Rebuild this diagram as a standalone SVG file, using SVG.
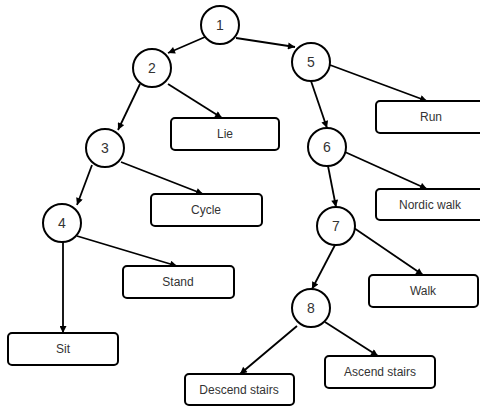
<svg xmlns="http://www.w3.org/2000/svg" width="480" height="407" viewBox="0 0 480 407">
<style>
.c{fill:#fff;stroke:#000;stroke-width:2}
.b{fill:#fff;stroke:#000;stroke-width:2}
.n{font-family:"Liberation Sans",Arial,sans-serif;font-size:14px;fill:#333;text-anchor:middle}
.t{font-family:"Liberation Sans",Arial,sans-serif;font-size:12px;fill:#333;text-anchor:middle}
.e{stroke:#000;stroke-width:1.8;fill:none;marker-end:url(#a)}
</style>
<defs>
<marker id="a" viewBox="0 0 10 10" refX="10" refY="5" markerWidth="9" markerHeight="7" markerUnits="userSpaceOnUse" orient="auto">
<path d="M0,0 L10,5 L0,10 z" fill="#000"/>
</marker>
</defs>
<g id="connectors">
<line class="e" x1="205" y1="37" x2="168" y2="53"/>
<line class="e" x1="236" y1="38" x2="295" y2="47"/>
<line class="e" x1="140" y1="84" x2="118" y2="130"/>
<line class="e" x1="168" y1="84" x2="222" y2="118"/>
<line class="e" x1="92" y1="165" x2="77" y2="205"/>
<line class="e" x1="121" y1="162" x2="203" y2="194"/>
<line class="e" x1="77" y1="236" x2="177" y2="266"/>
<line class="e" x1="63" y1="242" x2="63" y2="333"/>
<line class="e" x1="330" y1="65" x2="427" y2="101"/>
<line class="e" x1="311" y1="81" x2="327" y2="128"/>
<line class="e" x1="345" y1="152" x2="427" y2="189"/>
<line class="e" x1="328" y1="166" x2="336" y2="207"/>
<line class="e" x1="354" y1="228" x2="423" y2="275"/>
<line class="e" x1="335" y1="245" x2="312" y2="289"/>
<line class="e" x1="325" y1="322" x2="378" y2="356"/>
<line class="e" x1="297" y1="326" x2="240" y2="374"/>
</g>
<g id="n1"><circle class="c" cx="220" cy="25" r="19"/><text class="n" x="220" y="30">1</text></g>
<g id="n2"><circle class="c" cx="152" cy="68" r="19"/><text class="n" x="152" y="73">2</text></g>
<g id="n3"><circle class="c" cx="105" cy="148" r="19"/><text class="n" x="105" y="153">3</text></g>
<g id="n4"><circle class="c" cx="62" cy="223" r="19"/><text class="n" x="62" y="228">4</text></g>
<g id="n5"><circle class="c" cx="311" cy="62" r="19"/><text class="n" x="311" y="67">5</text></g>
<g id="n6"><circle class="c" cx="327" cy="147" r="19"/><text class="n" x="327" y="152">6</text></g>
<g id="n7"><circle class="c" cx="336" cy="226" r="19"/><text class="n" x="336" y="231">7</text></g>
<g id="n8"><circle class="c" cx="311" cy="308" r="19"/><text class="n" x="311" y="313">8</text></g>
<g id="lie"><rect class="b" x="171" y="118" width="108" height="32" rx="4"/><text class="t" x="225" y="138">Lie</text></g>
<g id="cycle"><rect class="b" x="151" y="194" width="111" height="32" rx="4"/><text class="t" x="206" y="214">Cycle</text></g>
<g id="stand"><rect class="b" x="123" y="266" width="111" height="32" rx="4"/><text class="t" x="178" y="286">Stand</text></g>
<g id="sit"><rect class="b" x="8" y="333" width="110" height="32" rx="4"/><text class="t" x="63" y="353">Sit</text></g>
<g id="descend"><rect class="b" x="185" y="374" width="109" height="31" rx="4"/><text class="t" x="239" y="394">Descend stairs</text></g>
<g id="ascend"><rect class="b" x="325" y="356" width="110" height="32" rx="4"/><text class="t" x="380" y="376">Ascend stairs</text></g>
<g id="walk"><rect class="b" x="369" y="275" width="109" height="32" rx="4"/><text class="t" x="423" y="295">Walk</text></g>
<g id="nordic"><rect class="b" x="376" y="189" width="110" height="31" rx="4"/><text class="t" x="430" y="209">Nordic walk</text></g>
<g id="run"><rect class="b" x="376" y="101" width="110" height="32" rx="4"/><text class="t" x="431" y="121">Run</text></g>
</svg>
